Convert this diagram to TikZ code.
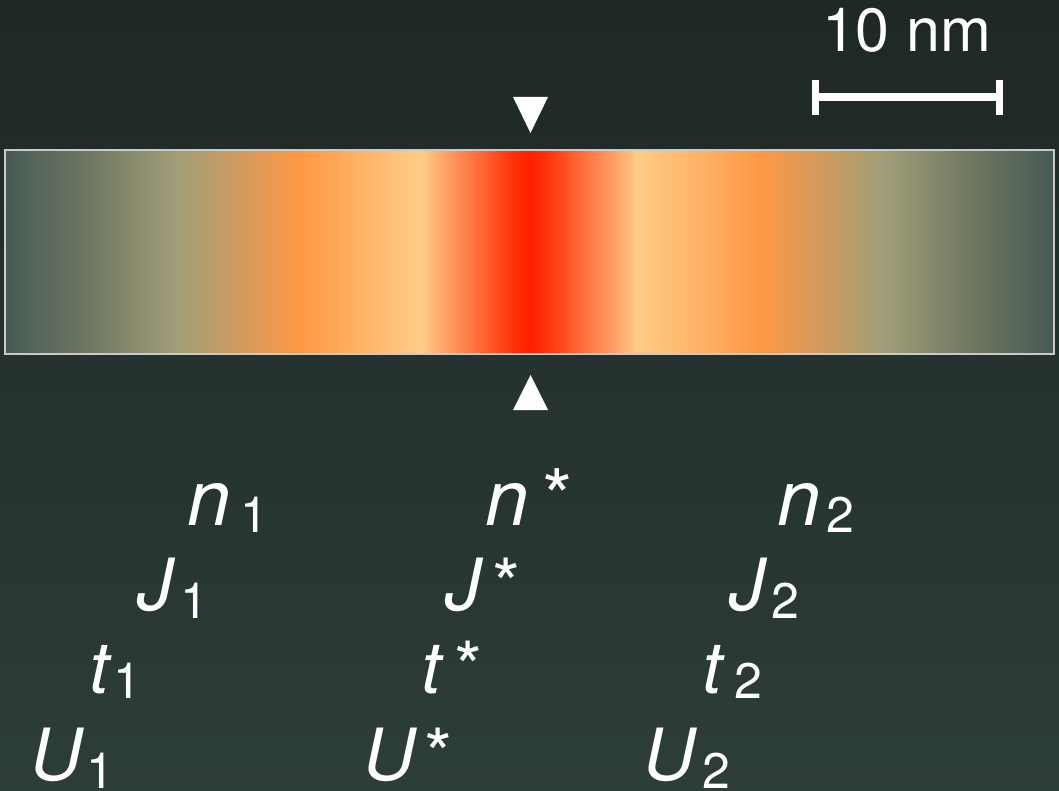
\documentclass[tikz,border=0pt]{standalone}
\usepackage{fontspec}
\setmainfont{TeX Gyre Heros}
\definecolor{bgtop}{HTML}{1E2826}
\definecolor{bgbot}{HTML}{2D3D39}
\definecolor{barframe}{HTML}{CACACA}
\definecolor{cA}{HTML}{475B55}
\definecolor{cB}{HTML}{6C7560}
\definecolor{cC}{HTML}{A09E78}
\definecolor{cD}{HTML}{FF9845}
\definecolor{cE}{HTML}{FFCD88}
\definecolor{cF}{HTML}{FFB577}
\definecolor{cG}{HTML}{FF2E05}
\definecolor{cH}{HTML}{FF2000}
\pgfdeclarehorizontalshading{barshade}{100bp}{color(0bp)=(cA); color(25bp)=(cA); color(28.65bp)=(cB); color(33.1bp)=(cC); color(39bp)=(cD); color(44.9bp)=(cE); color(45.4bp)=(cF); color(49.35bp)=(cG); color(50bp)=(cH); color(50.65bp)=(cG); color(54.6bp)=(cF); color(55.1bp)=(cE); color(61bp)=(cD); color(66.9bp)=(cC); color(71.35bp)=(cB); color(75bp)=(cA); color(100bp)=(cA)}
\newcommand\myfs[1]{\fontsize{#1}{#1}\selectfont}
\begin{document}
\begin{tikzpicture}[x=1pt,y=-1pt,
  lbl/.style={text=white, inner sep=0pt, outer sep=0pt, anchor=base west},
  bigvar/.style={lbl, font=\myfs{78}\itshape},
  var/.style={lbl, font=\myfs{72}\itshape},
  subnum/.style={lbl, font=\myfs{50}},
  bigstar/.style={lbl, font=\myfs{78}},
  star/.style={lbl, font=\myfs{72}},
  scalelbl/.style={lbl, font=\myfs{61}},
  scaleline/.style={draw=white, line width=8pt},
  scaletick/.style={draw=white, line width=7pt},
  marker/.style={fill=white}]
\useasboundingbox (0,0) rectangle (1059,791);
\fill[top color=bgtop, bottom color=bgbot] (0,0) rectangle (1059,791);
% bar
\shade[shading=barshade] (6,151) rectangle (1053,353);
\draw[barframe, line width=2.5pt] (5,150) rectangle (1054,354);
% markers
\fill[marker] (513,97) -- (548,97) -- (530.5,133) -- cycle;
\fill[marker] (530.5,375) -- (548,410) -- (513,410) -- cycle;
% scale bar
\coordinate (sbL) at (815.5,97.5);
\coordinate (sbR) at (999.5,97.5);
\draw[scaleline] (sbL) -- (sbR);
\draw[scaletick] ([yshift=-17.5pt]sbL) -- ([yshift=17.5pt]sbL);
\draw[scaletick] ([yshift=-17.5pt]sbR) -- ([yshift=17.5pt]sbR);
\node[scalelbl] (scl) at (822,52) {10 nm};
% row n
\node[bigvar] (n1) at (187,525) {n};
\node[subnum] (n1s) at (240,532) {1};
\node[bigvar] (ns) at (485,525) {n};
\node[bigstar] (nss) at (542,525) {*};
\node[bigvar] (n2) at (777,525) {n};
\node[subnum] (n2s) at (826.5,532) {2};
% row J
\node[var] (J1) at (137.5,610) {J};
\node[subnum] (J1s) at (180,618) {1};
\node[var] (Js) at (445.5,610) {J};
\node[star] (Jss) at (492,610) {*};
\node[var] (J2) at (729.5,610) {J};
\node[subnum] (J2s) at (771.5,618) {2};
% row t
\node[var] (t1) at (89,693) {t};
\node[subnum] (t1s) at (113,698) {1};
\node[var] (ts) at (421,693) {t};
\node[star] (tss) at (454,693) {*};
\node[var] (t2) at (702,693) {t};
\node[subnum] (t2s) at (734,698) {2};
% row U
\node[var] (U1) at (30,780) {U};
\node[subnum] (U1s) at (86,788) {1};
\node[var] (Us) at (363,780) {U};
\node[star] (Uss) at (424,780) {*};
\node[var] (U2) at (643,780) {U};
\node[subnum] (U2s) at (702,788) {2};
\end{tikzpicture}
\end{document}
